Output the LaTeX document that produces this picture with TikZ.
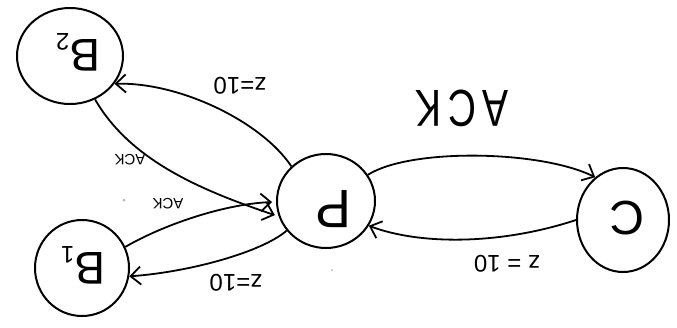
\documentclass[tikz,border=0pt]{standalone}
\usepackage{fontspec}
\setmainfont{Liberation Sans}
\usetikzlibrary{shapes.geometric,arrows.meta}
\begin{document}
\begin{tikzpicture}[x=1pt,y=-1pt,
  state/.style={draw,ellipse,line width=2pt,inner sep=0pt},
  conn/.style={line width=1.8pt,-{Straight Barb[length=10pt,width=18pt,line width=1.8pt]}},
  lbl/.style={inner sep=0pt},
  dot/.style={circle,fill=gray!60,inner sep=0pt,minimum size=3pt}]
\useasboundingbox (0,0) rectangle (677,327);
% states
\node[state,minimum width=106pt,minimum height=96pt] (B2) at (70,56) {};
\node[state,minimum width=94pt,minimum height=96pt] (B1) at (82,268) {};
\node[state,minimum width=98pt,minimum height=94pt] (P) at (326,201) {};
\node[state,minimum width=92pt,minimum height=104pt] (C) at (623,220) {};
% state labels (upside down)
\node[lbl,font=\fontsize{46}{46}\selectfont] (tB2) at (78,52) {\rotatebox{180}{B\raisebox{-6pt}{\fontsize{24}{24}\selectfont 2}}};
\node[lbl,font=\fontsize{46}{46}\selectfont] (tB1) at (83,265) {\rotatebox{180}{B\raisebox{-6pt}{\fontsize{24}{24}\selectfont 1}}};
\node[lbl,font=\fontsize{54}{54}\selectfont] (tP) at (333,209) {\rotatebox{180}{P}};
\node[lbl,font=\fontsize{48}{48}\selectfont] (tC) at (627,218) {\rotatebox{180}{C}};
% connectors
\draw[conn] (P.135) .. controls (262,122) and (180,82) .. (B2.-32);
\draw[conn,shorten >=4pt] (B2.-60) .. controls (130,160) and (200,190) .. (P.198);
\draw[conn,shorten >=4pt] (B1.26) .. controls (165,224) and (225,204) .. (P.181);
\draw[conn] (P.217) .. controls (262,252) and (190,272) .. (B1.-10);
\draw[conn] (P.32) .. controls (410,148) and (540,150) .. (C.123);
\draw[conn] (C.180) .. controls (500,245) and (420,245) .. (P.-30);
% edge labels (upside down)
\node[lbl,font=\fontsize{52}{52}\selectfont,xscale=0.75] (lACK) at (462,108) {\rotatebox{180}{A\,C\,K}};
\node[lbl,font=\fontsize{24}{24}\selectfont] (lz1) at (240,86) {\rotatebox{180}{z=10}};
\node[lbl,font=\fontsize{15}{15}\selectfont] (la1) at (130,160) {\rotatebox{180}{ACK}};
\node[lbl,font=\fontsize{15}{15}\selectfont] (la2) at (168,204) {\rotatebox{180}{ACK}};
\node[lbl,font=\fontsize{24}{24}\selectfont] (lz2) at (236,283) {\rotatebox{180}{z=10}};
\node[lbl,font=\fontsize{24}{24}\selectfont] (lz3) at (507,264) {\rotatebox{180}{z = 10}};
% scan specks
\node[dot] (d1) at (124,200) {};
\node[dot,minimum size=2pt] (d2) at (332,270) {};
\end{tikzpicture}
\end{document}
